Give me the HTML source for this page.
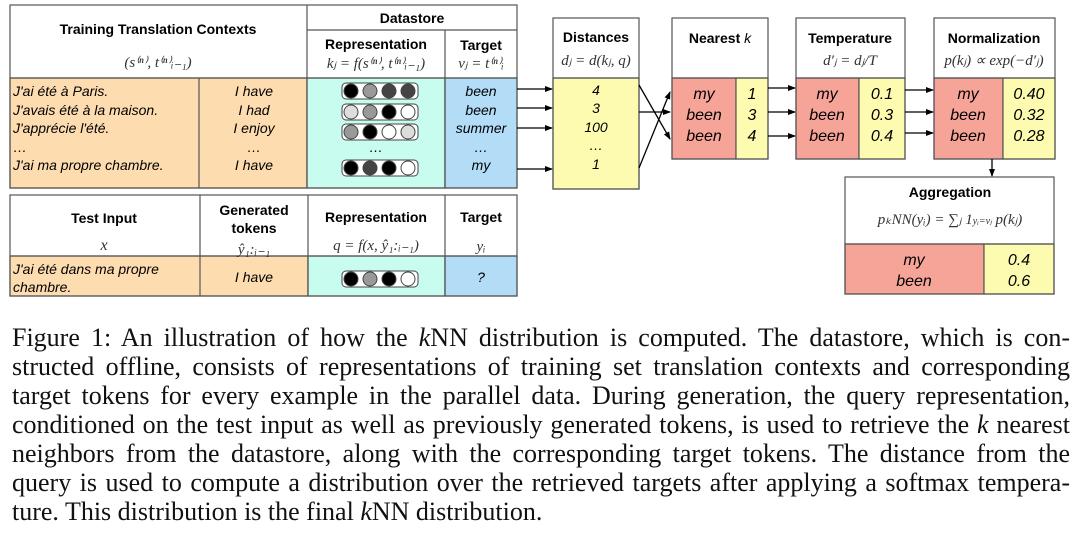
<!DOCTYPE html>
<html><head><meta charset="utf-8"><style>
body{margin:0;width:1080px;height:538px;background:#fff;overflow:hidden;position:relative}
svg{position:absolute;left:0;top:0}
.cap{position:absolute;left:12px;width:1058px;font-family:"Liberation Serif",serif;font-size:26px;line-height:29px;color:#111}
.cap div{text-align:justify;text-align-last:justify;height:29px;white-space:nowrap}
.cap div.last{text-align-last:left}
</style></head><body>
<svg width="1080" height="310" font-family="Liberation Sans, sans-serif">
<defs><marker id="a" markerWidth="8" markerHeight="8" refX="7" refY="4" orient="auto" markerUnits="userSpaceOnUse"><path d="M0,1 L8,4 L0,7z" fill="#000"/></marker></defs>
<g stroke="#555" stroke-width="1.2">
<rect x="10" y="78" width="297" height="110" fill="#fddcb0"/>
<rect x="307" y="78" width="138" height="110" fill="#c8fcee"/>
<rect x="445" y="78" width="72" height="110" fill="#b3dcf7"/>
<rect x="10" y="5" width="507" height="183" fill="none"/>
<line x1="307" y1="5" x2="307" y2="188"/><line x1="199" y1="78" x2="199" y2="188"/>
<line x1="307" y1="30" x2="517" y2="30"/><line x1="445" y1="30" x2="445" y2="188"/>
<line x1="10" y1="78" x2="517" y2="78"/>
<rect x="10" y="256" width="298" height="40" fill="#fddcb0"/>
<rect x="308" y="256" width="137" height="40" fill="#c8fcee"/>
<rect x="445" y="256" width="72" height="40" fill="#b3dcf7"/>
<rect x="10" y="195" width="507" height="101" fill="none"/>
<line x1="200" y1="195" x2="200" y2="296"/><line x1="308" y1="195" x2="308" y2="296"/><line x1="445" y1="195" x2="445" y2="296"/>
<line x1="10" y1="256" x2="517" y2="256"/>
<rect x="553" y="78" width="86" height="111" fill="#fdfbb0"/><rect x="553" y="18" width="86" height="171" fill="none"/><line x1="553" y1="78" x2="639" y2="78"/>
<rect x="672" y="78" width="64" height="81" fill="#f6a498"/><rect x="736" y="78" width="32" height="81" fill="#fdfbb0"/><rect x="672" y="18" width="96" height="141" fill="none"/><line x1="672" y1="78" x2="768" y2="78"/>
<rect x="796" y="78" width="63" height="81" fill="#f6a498"/><rect x="859" y="78" width="46" height="81" fill="#fdfbb0"/><rect x="796" y="18" width="109" height="141" fill="none"/><line x1="796" y1="78" x2="905" y2="78"/>
<rect x="934" y="78" width="69" height="81" fill="#f6a498"/><rect x="1003" y="78" width="52" height="81" fill="#fdfbb0"/><rect x="934" y="18" width="121" height="141" fill="none"/><line x1="934" y1="78" x2="1055" y2="78"/>
<rect x="845" y="244" width="139" height="50" fill="#f6a498"/><rect x="984" y="244" width="70" height="50" fill="#fdfbb0"/><rect x="845" y="177" width="209" height="117" fill="none"/><line x1="845" y1="244" x2="1054" y2="244"/>
</g>
<g font-weight="bold" font-size="14" text-anchor="middle">
<text x="158" y="34">Training Translation Contexts</text>
<text x="412" y="23">Datastore</text>
<text x="376" y="49">Representation</text><text x="481" y="50">Target</text>
<text x="104" y="223">Test Input</text><text x="254" y="215">Generated</text><text x="254" y="233">tokens</text>
<text x="376" y="222">Representation</text><text x="481" y="222">Target</text>
<text x="596" y="42">Distances</text><text x="720" y="43">Nearest <tspan font-style="italic" font-weight="normal">k</tspan></text>
<text x="850" y="43">Temperature</text><text x="994" y="43">Normalization</text><text x="950" y="197">Aggregation</text>
</g>
<g font-family="Liberation Serif, serif" font-style="italic" font-size="15" text-anchor="middle" fill="#333">
<text x="158" y="67">(s⁽ⁿ⁾, t⁽ⁿ⁾ᵢ₋₁)</text>
<text x="376" y="68">kⱼ = f(s⁽ⁿ⁾, t⁽ⁿ⁾ᵢ₋₁)</text><text x="481" y="68">vⱼ = t⁽ⁿ⁾ᵢ</text>
<text x="104" y="250" font-size="16">x</text><text x="254" y="254">ŷ₁:ᵢ₋₁</text>
<text x="376" y="250">q = f(x, ŷ₁:ᵢ₋₁)</text><text x="481" y="251">yᵢ</text>
<text x="596" y="65">dⱼ = d(kⱼ, q)</text><text x="850" y="65">d′ⱼ = dⱼ/T</text>
<text x="994" y="65">p(kⱼ) ∝ exp(−d′ⱼ)</text>
<text x="950" y="224">pₖNN(yᵢ) = ∑ⱼ 1<tspan font-size="10">yᵢ=vⱼ</tspan> p(kⱼ)</text>
</g>
<g font-style="italic" font-size="14">
<text x="13" y="96">J'ai été à Paris.</text><text x="13" y="115">J'avais été à la maison.</text><text x="13" y="133">J'apprécie l'été.</text><text x="13" y="152">…</text><text x="13" y="170">J'ai ma propre chambre.</text>
<text x="13" y="274">J'ai été dans ma propre</text><text x="13" y="292">chambre.</text>
</g>
<g font-style="italic" font-size="14" text-anchor="middle">
<text x="254" y="96">I have</text><text x="254" y="115">I had</text><text x="254" y="133">I enjoy</text><text x="254" y="152">…</text><text x="254" y="170">I have</text><text x="254" y="282">I have</text>
<text x="481" y="96">been</text><text x="481" y="115">been</text><text x="481" y="133">summer</text><text x="481" y="152">…</text><text x="481" y="170">my</text><text x="481" y="282">?</text>
<text x="376" y="152">…</text>
<text x="596" y="95">4</text><text x="596" y="113">3</text><text x="596" y="132">100</text><text x="596" y="150">…</text><text x="596" y="169">1</text>
</g>
<g font-style="italic" font-size="16" text-anchor="middle">
<text x="704" y="99">my</text><text x="704" y="120">been</text><text x="704" y="141">been</text>
<text x="752" y="99">1</text><text x="752" y="120">3</text><text x="752" y="141">4</text>
<text x="827" y="99">my</text><text x="827" y="120">been</text><text x="827" y="141">been</text>
<text x="882" y="99">0.1</text><text x="882" y="120">0.3</text><text x="882" y="141">0.4</text>
<text x="968" y="99">my</text><text x="968" y="120">been</text><text x="968" y="141">been</text>
<text x="1029" y="99">0.40</text><text x="1029" y="120">0.32</text><text x="1029" y="141">0.28</text>
<text x="914" y="265">my</text><text x="914" y="286">been</text>
<text x="1019" y="265">0.4</text><text x="1019" y="286">0.6</text>
</g>
<g stroke="#444" stroke-width="1">
<rect x="342" y="83" width="76" height="16" rx="4" fill="#fff"/><rect x="342" y="104" width="76" height="16" rx="4" fill="#fff"/><rect x="342" y="124" width="76" height="16" rx="4" fill="#fff"/><rect x="342" y="160" width="76" height="16" rx="4" fill="#fff"/><rect x="342" y="271" width="76" height="16" rx="4" fill="#fff"/>
<circle cx="351" cy="91" r="7" fill="#000"/><circle cx="370" cy="91" r="7" fill="#999"/><circle cx="389" cy="91" r="7" fill="#444"/><circle cx="408" cy="91" r="7" fill="#444"/>
<circle cx="351" cy="112" r="7" fill="#ddd"/><circle cx="370" cy="112" r="7" fill="#999"/><circle cx="389" cy="112" r="7" fill="#000"/><circle cx="408" cy="112" r="7" fill="#fff"/>
<circle cx="351" cy="132" r="7" fill="#999"/><circle cx="370" cy="132" r="7" fill="#000"/><circle cx="389" cy="132" r="7" fill="#fff"/><circle cx="408" cy="132" r="7" fill="#ddd"/>
<circle cx="351" cy="168" r="7" fill="#000"/><circle cx="370" cy="168" r="7" fill="#444"/><circle cx="389" cy="168" r="7" fill="#000"/><circle cx="408" cy="168" r="7" fill="#fff"/>
<circle cx="351" cy="279" r="7" fill="#000"/><circle cx="370" cy="279" r="7" fill="#999"/><circle cx="389" cy="279" r="7" fill="#000"/><circle cx="408" cy="279" r="7" fill="#fff"/>
</g>
<g stroke="#000" stroke-width="1.3" marker-end="url(#a)" fill="none">
<line x1="517" y1="89" x2="552" y2="89"/><line x1="517" y1="108" x2="552" y2="108"/><line x1="517" y1="128" x2="552" y2="128"/><line x1="517" y1="169" x2="552" y2="169"/>
<line x1="639" y1="85" x2="670" y2="139"/><line x1="639" y1="112" x2="670" y2="112"/><line x1="639" y1="168" x2="670" y2="92"/>
<line x1="768" y1="88" x2="795" y2="88"/><line x1="768" y1="112" x2="795" y2="112"/><line x1="768" y1="136" x2="795" y2="136"/>
<line x1="905" y1="90" x2="933" y2="90"/><line x1="905" y1="112" x2="933" y2="112"/><line x1="905" y1="133" x2="933" y2="133"/>
<line x1="992" y1="159" x2="992" y2="176"/>
</g>
</svg>
<div class="cap" style="top:323px">
<div>Figure 1: An illustration of how the <i>k</i>NN distribution is computed. The datastore, which is con-</div>
<div>structed offline, consists of representations of training set translation contexts and corresponding</div>
<div>target tokens for every example in the parallel data. During generation, the query representation,</div>
<div>conditioned on the test input as well as previously generated tokens, is used to retrieve the <i>k</i> nearest</div>
<div>neighbors from the datastore, along with the corresponding target tokens. The distance from the</div>
<div>query is used to compute a distribution over the retrieved targets after applying a softmax tempera-</div>
<div class="last">ture. This distribution is the final <i>k</i>NN distribution.</div>
</div>
</body></html>
